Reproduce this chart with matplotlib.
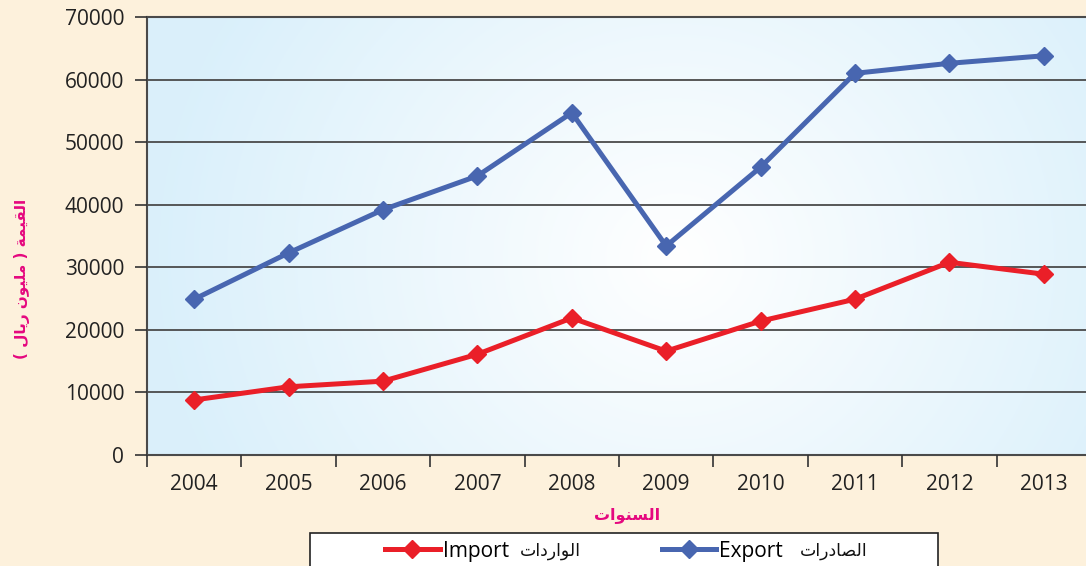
import numpy as np
import matplotlib
matplotlib.use("Agg")
import matplotlib.pyplot as plt
from matplotlib.patches import Rectangle

# data
years = ["2004", "2005", "2006", "2007", "2008", "2009", "2010", "2011", "2012", "2013"]
export_vals = [24900, 32300, 39200, 44600, 54700, 33400, 46000, 61000, 62600, 63800]
import_vals = [8800, 10900, 11800, 16100, 21900, 16600, 21400, 24900, 30800, 28900]

# Arabic text in presentation forms, visual (left-to-right) order
x_title = "ﺕﺍﻮﻨﺴﻟﺍ"
y_title = "( ﻝﺎﻳﺭ ﻥﻮﻴﻠﻣ ) ﺔﻤﻴﻘﻟﺍ"
import_ar = "ﺕﺍﺩﺭﺍﻮﻟﺍ"
export_ar = "ﺕﺍﺭﺩﺎﺼﻟﺍ"

BLUE = "#4866B0"
RED = "#EA1F28"
PINK = "#E5087F"
CREAM = "#FDF1DC"

plt.rcParams["font.family"] = ["Open Sans", "DejaVu Sans"]

W, H = 1086, 566
fig = plt.figure(figsize=(W / 100, H / 100), dpi=100, facecolor=CREAM)
ax = fig.add_axes([147 / W, 1 - 455 / H, (1091 - 147) / W, (455 - 17) / H])

# radial background gradient, white in the middle, light blue at the edges
u, v = np.meshgrid(np.linspace(0, 1, 400), np.linspace(0, 1, 300))
r = np.sqrt(((u - 0.56) / 0.55) ** 2 + ((v - 0.45) / 1.1) ** 2)
t = np.clip(r, 0, 1)[..., None]
white = np.array([1.0, 1.0, 1.0])
lightblue = np.array([0.855, 0.941, 0.984])
grad = white * (1 - t) + lightblue * t
ax.imshow(grad, extent=(0, 1, 0, 1), transform=ax.transAxes, aspect="auto", zorder=0, origin="lower")

x = np.arange(len(years))
ax.plot(x, import_vals, color=RED, lw=3.6, marker="D", ms=9, zorder=4, label="Import")
ax.plot(x, export_vals, color=BLUE, lw=3.6, marker="D", ms=9, zorder=4, label="Export")

ax.set_xlim(-0.5, 9.5)
ax.set_ylim(0, 70000)
ax.set_yticks(np.arange(0, 70001, 10000))
ax.yaxis.grid(True, color="#4a4a4a", lw=1.3)
ax.set_axisbelow(False)
for line in ax.get_ygridlines():
    line.set_zorder(1)

ax.set_xticks(x)
ax.set_xticklabels(years)
ax.set_xticks(np.arange(-0.5, 10, 1), minor=True)
ax.tick_params(axis="x", which="major", length=0, pad=14, labelsize=15, labelcolor="#222222")
ax.tick_params(axis="x", which="minor", length=8.5, width=1.2, color="#333333")
ax.tick_params(axis="y", length=8.5, width=1.2, color="#333333", labelsize=15, pad=8,
               labelcolor="#222222")

for s in ["left", "bottom", "top"]:
    ax.spines[s].set_color("#4a4a4a")
    ax.spines[s].set_linewidth(1.5)
ax.spines["right"].set_visible(False)

fig.text(627 / W, 1 - 515 / H, x_title, color=PINK, fontsize=11.5, fontweight="bold",
         ha="center", va="center", family=["DejaVu Sans"])
fig.text(22 / W, 1 - 279 / H, y_title, color=PINK, fontsize=11, fontweight="bold",
         ha="center", va="center", rotation=90, family=["DejaVu Sans"])

# legend box (cut off at the bottom edge like the reference)
fig.patches.append(Rectangle((310 / W, -0.02), (938 - 310) / W, (566 - 533) / H + 0.02,
                             transform=fig.transFigure, facecolor="white",
                             edgecolor="#222222", lw=1.2, zorder=1))
handles, labels = ax.get_legend_handles_labels()
leg = fig.legend(handles, labels, loc="center left", bbox_to_anchor=(377 / W, 1 - 551 / H),
                 ncol=2, frameon=False, fontsize=15, handlelength=2.6, handletextpad=0.15,
                 columnspacing=7.35, borderaxespad=0)
leg.set_zorder(5)
fig.text(550 / W, 1 - 551 / H, import_ar, fontsize=12.5, ha="center", va="center",
         family=["DejaVu Sans"], color="#111111", zorder=6)
fig.text(834 / W, 1 - 551 / H, export_ar, fontsize=12.5, ha="center", va="center",
         family=["DejaVu Sans"], color="#111111", zorder=6)

fig.savefig("out.png", dpi=100, facecolor=CREAM)
